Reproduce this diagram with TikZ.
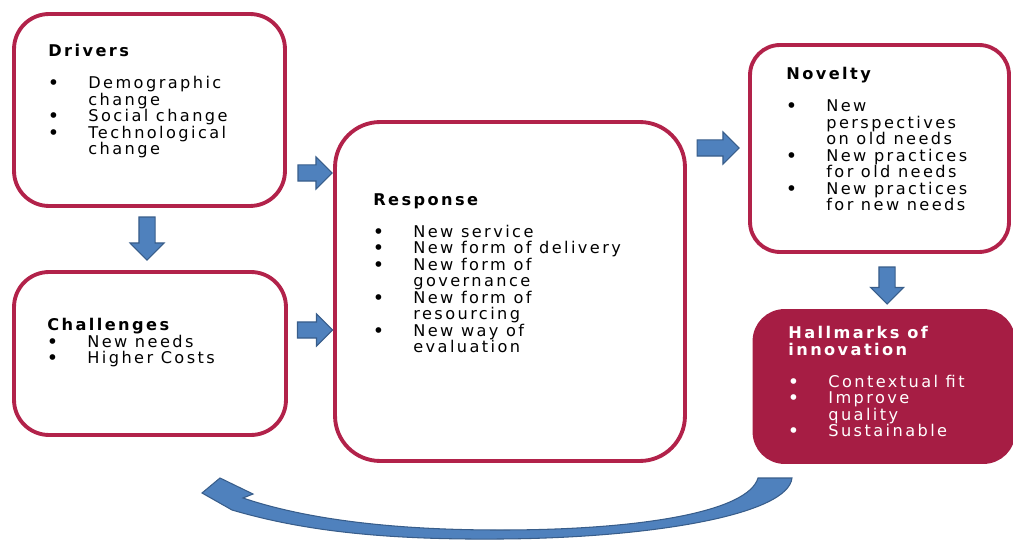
\documentclass[tikz,border=0pt]{standalone}
\usepackage{fontspec}
\setmainfont{DejaVu Sans}[LetterSpace=15]
\usetikzlibrary{shapes.arrows}
\definecolor{rim}{RGB}{178,34,74}
\definecolor{hallfill}{RGB}{166,29,68}
\definecolor{arrblue}{RGB}{79,129,189}
\definecolor{arredge}{RGB}{56,93,138}
\newcommand{\bl}{\makebox[0.8cm][l]{\textbf{\textbullet}}}
\newcommand{\bc}{\makebox[0.8cm]{}}

\begin{document}
\begin{tikzpicture}[x=0.02cm,y=-0.02cm,
	box/.style={draw=rim,line width=2.2pt,rounded corners=0.7cm,fill=white},
	txt/.style={anchor=north west,inner sep=0pt,align=left,font=\fontsize{9.2}{9.4}\selectfont},
	blk/.style={single arrow,draw=arredge,fill=arrblue,line width=0.6pt,inner xsep=0pt,inner ysep=0.15cm,
		single arrow head extend=0.16cm,single arrow tip angle=90}]
				\useasboundingbox (0,0) rectangle (1013,540);
				% boxes
				\node[box,minimum width=5.42cm,minimum height=3.84cm] (drv) at (149.5,110) {};
				\node[box,minimum width=5.44cm,minimum height=3.26cm] (chl) at (150,353.5) {};
				\node[box,rounded corners=0.9cm,minimum width=7cm,minimum height=6.78cm] (rsp) at (510,291.5) {};
				\node[box,rounded corners=0.6cm,minimum width=5.18cm,minimum height=4.14cm] (nov) at (879.5,148.5) {};
				\node[box,draw=hallfill,fill=hallfill,rounded corners=0.6cm,minimum width=5.18cm,minimum height=3.02cm] (hlm) at (884,386.5) {};
				% texts
				\node[txt] (drvtxt) at (48,44) {\textbf{Drivers}\\[8.8pt]\bl Demographic\\\bc change\\\bl Social change\\\bl Technological\\\bc change};
				\node[txt] (chltxt) at (47,318) {\textbf{Challenges}\\\bl New needs\\\bl Higher Costs};
				\node[txt] (rsptxt) at (373,193) {\textbf{Response}\\[8.8pt]\bl New service\\\bl New form of delivery\\\bl New form of\\\bc governance\\\bl New form of\\\bc resourcing\\\bl New way of\\\bc evaluation};
				\node[txt] (novtxt) at (786,67) {\textbf{Novelty}\\[8.8pt]\bl New\\\bc perspectives\\\bc on old needs\\\bl New practices\\\bc for old needs\\\bl New practices\\\bc for new needs};
				\node[txt,text=white] (hlmtxt) at (788,326) {\textbf{Hallmarks of}\\\textbf{innovation}\\[8.8pt]\bl Contextual fit\\\bl Improve\\\bc quality\\\bl Sustainable};
				% block arrows
				\node[blk,rotate=-90,single arrow head extend=0.18cm,minimum height=0.86cm] (a1) at (147,234.5) {};
				\node[blk,minimum height=0.68cm] (a2) at (311,173) {};
				\node[blk,minimum height=0.7cm] (a3) at (311,330) {};
				\node[blk,minimum height=0.84cm] (a4) at (714,148) {};
				\node[blk,rotate=-90,single arrow head extend=0.17cm,minimum height=0.74cm] (a5) at (887,281.5) {};
				% curved arrow back
				\filldraw[fill=arrblue,draw=arredge,line width=0.6pt] (758,478) -- (792,478)
					.. controls (788,515) and (650,538) .. (500,539)
					.. controls (380,540) and (300,530) .. (232,510)
					-- (202,493) -- (220,478) -- (253,494) -- (243,498)
					.. controls (320,524) and (420,530) .. (500,530)
					.. controls (640,530) and (748,512) .. (758,478) -- cycle;
				\end{tikzpicture}
\end{document}
